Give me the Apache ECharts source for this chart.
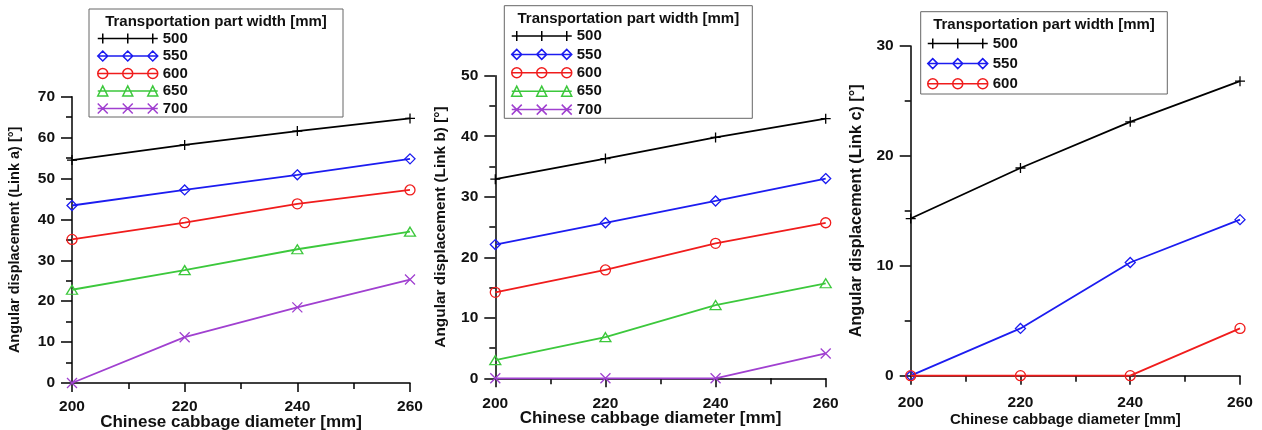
<!DOCTYPE html>
<html>
<head>
<meta charset="utf-8">
<script src="https://cdn.jsdelivr.net/npm/echarts@6/dist/echarts.min.js"></script>
<style>
  html, body { margin: 0; padding: 0; background: #fff; }
  #chart { width: 1262px; height: 430px; }
</style>
</head>
<body>
<div id="chart"></div>
<script>
// 横轴：白菜直径
const diameters = [200, 220, 240, 260];
const widthNames = ["500", "550", "600", "650", "700"];

// Link a
const linkA500 = [54.5, 58.2, 61.6, 64.7];
const linkA550 = [43.4, 47.2, 50.9, 54.8];
const linkA600 = [35.1, 39.2, 43.8, 47.2];
const linkA650 = [22.8, 27.6, 32.7, 37.0];
const linkA700 = [0, 11.2, 18.5, 25.3];
// Link b
const linkB500 = [32.9, 36.3, 39.8, 42.9];
const linkB550 = [22.1, 25.7, 29.3, 33.0];
const linkB600 = [14.2, 17.9, 22.3, 25.7];
const linkB650 = [3.0, 6.8, 12.1, 15.7];
const linkB700 = [0, 0, 0, 4.1];
// Link c
const linkC500 = [14.3, 18.9, 23.1, 26.8];
const linkC550 = [0, 4.3, 10.3, 14.2];
const linkC600 = [0, 0, 0, 4.3];

const yMaxes = [70, 50, 30];
const yNames = [
  "Angular displacement (Link a) [°]",
  "Angular displacement (Link b) [°]",
  "Angular displacement (Link c) [°]",
];
const xName = "Chinese cabbage diameter [mm]";
const legendTitle = "Transportation part width [mm]";

const FONT = "'Liberation Sans', Arial, sans-serif";
const colors = ["#000000", "#1c1cf0", "#f01c1c", "#3cc83c", "#a040d0"];
const symbols = [
  "path://M0 5L10 5M5 0L5 10",
  "diamond",
  "circle",
  "triangle",
  "path://M0 0L10 10M10 0L0 10",
];

// 图例图标：线 + 三个标记
function legendIcon(i) {
  const cx = [5, 30, 55];
  let p = "M0 5L60 5";
  cx.forEach((c) => {
    if (i === 0) p += `M${c} 0L${c} 10`;
    if (i === 1) p += `M${c - 5} 5L${c} 0L${c + 5} 5L${c} 10Z`;
    if (i === 2) p += `M${c - 5} 5A5 5 0 1 0 ${c + 5} 5A5 5 0 1 0 ${c - 5} 5Z`;
    if (i === 3) p += `M${c - 5} 10L${c} 0L${c + 5} 10Z`;
    if (i === 4) p += `M${c - 5} 0L${c + 5} 10M${c + 5} 0L${c - 5} 10`;
  });
  return "path://" + p;
}

const panels = [
  { data: [linkA500, linkA550, linkA600, linkA650, linkA700],
    grid: { left: 72, top: 96.7, width: 338, height: 286.3 },
    labelSize: 15.5, labelMargin: 16, xNameSize: 17, xNameGap: 30.5,
    yNameSize: 14.5, yNameGap: 50,
    box: { x: 89, y: 9, w: 254, h: 108 }, titleY: 21.5, legendLeft: 97, legendTop: 31, itemGap: 2.5 },
  { data: [linkB500, linkB550, linkB600, linkB650, linkB700],
    grid: { left: 495.3, top: 75.7, width: 330.4, height: 302.6 },
    labelSize: 15.5, labelMargin: 17, xNameSize: 17, xNameGap: 32,
    yNameSize: 15.4, yNameGap: 47,
    box: { x: 504.3, y: 5.7, w: 248, h: 112.6 }, titleY: 18.5, legendLeft: 511, legendTop: 28.5, itemGap: 3.4 },
  { data: [linkC500, linkC550, linkC600],
    grid: { left: 910.7, top: 46, width: 329.3, height: 329.7 },
    labelSize: 15.5, labelMargin: 19.5, xNameSize: 15, xNameGap: 37,
    yNameSize: 16.2, yNameGap: 46,
    box: { x: 920.7, y: 11.7, w: 246.6, h: 82.3 }, titleY: 25, legendLeft: 927, legendTop: 36, itemGap: 5.1 },
];

const option = {
  animation: false,
  backgroundColor: "#fff",
  textStyle: { fontFamily: FONT },
  grid: [],
  xAxis: [],
  yAxis: [],
  legend: [],
  graphic: [],
  series: [],
};

panels.forEach((pn, k) => {
  option.grid.push(Object.assign({ outerBoundsMode: "none", containLabel: false }, pn.grid));
  option.xAxis.push({
    gridIndex: k,
    type: "value",
    min: 200,
    max: 260,
    interval: 20,
    name: xName,
    nameLocation: "middle",
    nameGap: pn.xNameGap,
    nameMoveOverlap: false,
    nameTextStyle: { fontFamily: FONT, fontWeight: "bold", fontSize: pn.xNameSize, color: "#111", padding: [0, 20, 0, 0] },
    axisLine: { lineStyle: { color: "#000", width: 1.5 } },
    axisTick: { length: 9, lineStyle: { color: "#000", width: 1.5 } },
    minorTick: { show: true, splitNumber: 2, length: 6, lineStyle: { color: "#000", width: 1.5 } },
    splitLine: { show: false },
    axisLabel: { fontFamily: FONT, fontWeight: "bold", fontSize: pn.labelSize, color: "#111", margin: pn.labelMargin },
  });
  option.yAxis.push({
    gridIndex: k,
    type: "value",
    min: 0,
    max: yMaxes[k],
    interval: 10,
    name: yNames[k],
    nameLocation: "middle",
    nameGap: pn.yNameGap,
    nameMoveOverlap: false,
    nameTextStyle: { fontFamily: FONT, fontWeight: "bold", fontSize: pn.yNameSize, color: "#111" },
    axisLine: { show: true, lineStyle: { color: "#000", width: 1.5 } },
    axisTick: { show: true, length: 11, lineStyle: { color: "#000", width: 1.5 } },
    minorTick: { show: true, splitNumber: 2, length: 6, lineStyle: { color: "#000", width: 1.5 } },
    splitLine: { show: false },
    axisLabel: { fontFamily: FONT, fontWeight: "bold", fontSize: pn.labelSize, color: "#111", margin: 17 },
  });

  const names = widthNames.slice(0, pn.data.length);
  names.forEach((nm, i) => {
    option.series.push({
      name: nm,
      type: "line",
      xAxisIndex: k,
      yAxisIndex: k,
      data: diameters.map((d, j) => [d, pn.data[i][j]]),
      symbol: symbols[i],
      symbolSize: i === 3 ? [11, 9] : 10,
      clip: false,
      lineStyle: { color: colors[i], width: 1.8 },
      itemStyle: { color: "rgba(0,0,0,0)", borderColor: colors[i], borderWidth: 1.3 },
      emphasis: { disabled: true },
      z: 2 + i,
    });
  });

  // 图例框与标题
  option.graphic.push({
    type: "rect",
    z: 3,
    shape: { x: pn.box.x, y: pn.box.y, width: pn.box.w, height: pn.box.h },
    style: { fill: "#fff", stroke: "#666", lineWidth: 1 },
  });
  option.graphic.push({
    type: "text",
    z: 4,
    x: pn.box.x + pn.box.w / 2,
    y: pn.titleY,
    style: {
      text: legendTitle,
      fontFamily: FONT,
      fontWeight: "bold",
      fontSize: 15,
      fill: "#111",
      textAlign: "center",
      textVerticalAlign: "middle",
    },
  });
  option.legend.push({
    orient: "vertical",
    left: pn.legendLeft,
    top: pn.legendTop,
    padding: 0,
    itemGap: pn.itemGap,
    itemWidth: 60,
    itemHeight: 10,
    z: 5,
    selectedMode: false,
    textStyle: { fontFamily: FONT, fontWeight: "bold", fontSize: 15, color: "#111" },
    data: names.map((nm, i) => ({
      name: nm,
      icon: legendIcon(i),
      itemStyle: { color: "rgba(0,0,0,0)", borderColor: colors[i], borderWidth: 1.5 },
    })),
  });
});

const chartInstance = echarts.init(document.getElementById("chart"));
chartInstance.setOption(option);
</script>
</body>
</html>
